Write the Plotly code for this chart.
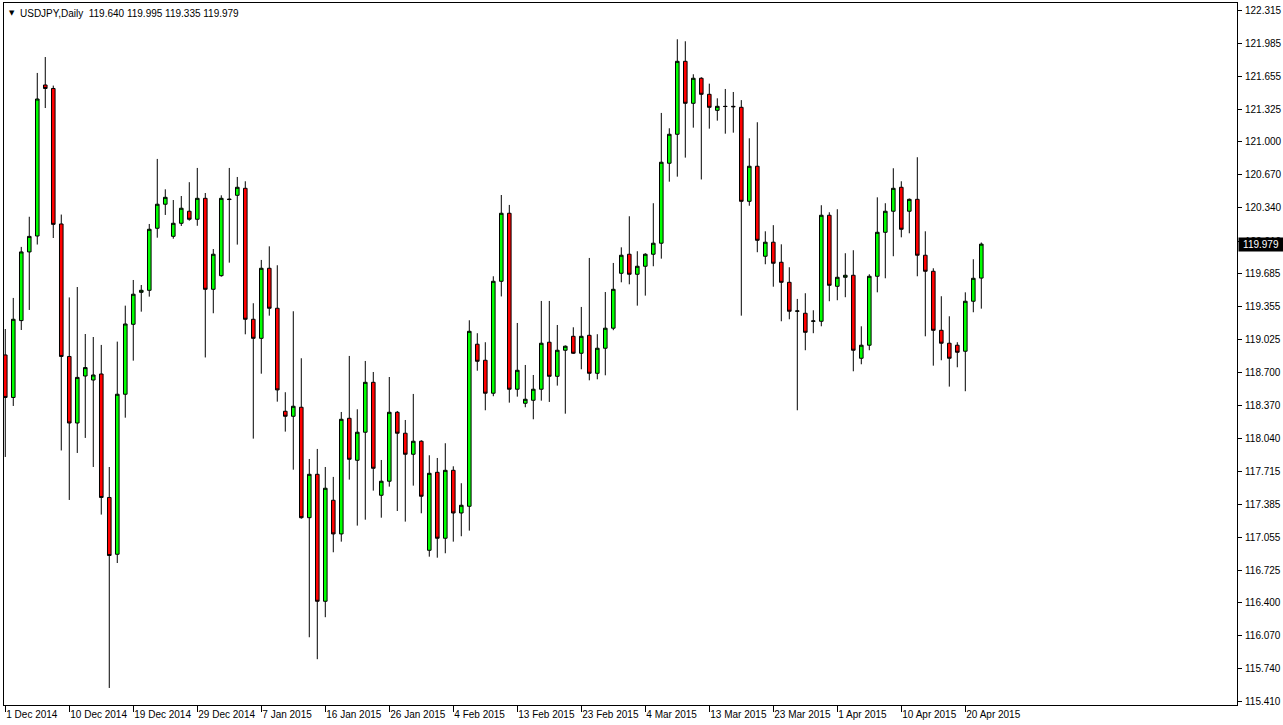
import pandas as pd
import plotly.graph_objects as go

# ---- data (USDJPY daily) ----
dates = [d.strftime("%Y-%m-%d") for d in pd.date_range("2014-12-01", "2015-04-22") if d.weekday() != 5]

opens = [118.873, 118.449, 119.216, 119.901, 120.060, 121.567, 121.532, 120.180, 118.858, 118.194,
         118.663, 118.623, 118.683, 117.451, 116.884, 118.481, 119.179, 119.498, 119.518, 120.137,
         120.377, 120.057, 120.187, 120.307, 120.227, 120.436, 119.528, 119.664, 120.429, 120.466,
         120.536, 119.229, 119.039, 119.738, 119.339, 118.311, 118.261, 118.351, 117.249, 117.682,
         116.415, 117.423, 117.087, 118.241, 117.822, 118.102, 118.600, 117.473, 117.613, 118.301,
         118.092, 117.882, 118.012, 116.924, 117.702, 117.044, 117.722, 117.296, 117.363, 118.980,
         118.820, 118.491, 119.608, 120.287, 118.531, 118.391, 118.421, 118.531, 119.000, 118.660,
         118.920, 119.059, 118.890, 119.069, 118.690, 118.940, 119.140, 119.688, 119.878, 119.678,
         119.758, 119.878, 119.988, 120.786, 121.075, 121.803, 121.384, 121.634, 121.474, 121.314,
         121.354, 121.354, 121.344, 120.406, 120.756, 119.858, 119.998, 119.798, 119.598, 119.309,
         119.289, 119.209, 119.209, 120.267, 119.558, 119.648, 119.668, 118.840, 118.970, 119.658,
         120.097, 120.307, 120.546, 120.307, 120.426, 119.868, 119.708, 119.119, 118.990, 118.970,
         118.910, 119.409, 119.640]
highs = [119.132, 119.442, 119.951, 120.252, 121.687, 121.846, 121.561, 120.274, 119.447, 119.551,
         119.082, 119.052, 118.973, 117.755, 119.006, 119.365, 119.621, 119.571, 120.180, 120.829,
         120.526, 120.419, 120.459, 120.597, 120.739, 120.489, 119.930, 120.466, 120.739, 120.649,
         120.606, 119.389, 119.821, 119.957, 119.768, 118.501, 119.309, 118.840, 117.835, 117.935,
         117.755, 117.656, 118.304, 118.863, 118.331, 118.813, 118.703, 117.825, 118.653, 118.314,
         118.224, 118.484, 118.022, 117.872, 117.845, 117.992, 117.762, 117.593, 119.219, 119.090,
         119.000, 119.658, 120.469, 120.370, 119.192, 118.773, 118.673, 119.412, 119.412, 119.172,
         118.968, 119.149, 119.352, 119.841, 119.080, 119.501, 119.791, 119.947, 120.257, 119.908,
         119.888, 120.387, 121.288, 121.135, 122.023, 122.003, 121.674, 121.644, 121.580, 121.434,
         121.527, 121.497, 121.416, 121.035, 121.195, 120.107, 120.168, 119.977, 119.748, 119.432,
         119.489, 119.319, 120.367, 120.297, 120.327, 119.888, 119.918, 119.159, 119.678, 120.446,
         120.387, 120.736, 120.606, 120.434, 120.846, 120.107, 119.738, 119.459, 119.259, 119.000,
         119.498, 119.828, 119.995]
lows = [117.855, 118.364, 119.122, 119.322, 119.975, 121.337, 120.040, 117.920, 117.426, 117.895,
        118.045, 117.755, 117.280, 115.550, 116.797, 118.247, 118.816, 119.305, 119.455, 120.043,
        120.270, 120.033, 120.160, 120.213, 120.162, 118.848, 119.289, 119.654, 119.794, 119.974,
        119.079, 118.038, 118.686, 119.265, 118.407, 118.108, 117.728, 117.239, 116.056, 115.837,
        116.256, 116.904, 117.010, 117.629, 117.170, 117.229, 117.519, 117.249, 117.559, 117.316,
        117.210, 117.569, 117.293, 116.860, 116.850, 116.894, 117.010, 117.064, 117.120, 118.716,
        118.321, 118.461, 119.457, 118.397, 118.457, 118.351, 118.231, 118.417, 118.404, 118.567,
        118.287, 118.883, 118.730, 118.620, 118.630, 118.670, 119.120, 119.598, 119.578, 119.365,
        119.465, 119.758, 119.834, 120.602, 120.652, 120.842, 121.141, 120.624, 121.131, 121.211,
        121.081, 121.091, 119.265, 120.362, 119.898, 119.778, 119.554, 119.209, 119.229, 118.321,
        118.920, 119.090, 119.159, 119.409, 119.419, 119.449, 118.710, 118.780, 118.920, 119.498,
        119.638, 119.858, 120.047, 120.087, 119.658, 119.059, 118.766, 118.820, 118.557, 118.750,
        118.511, 119.299, 119.335]
closes = [118.449, 119.229, 119.901, 120.056, 121.427, 121.532, 120.176, 118.858, 118.194, 118.649,
          118.747, 118.673, 117.451, 116.872, 118.481, 119.182, 119.479, 119.518, 120.127, 120.377,
          120.446, 120.187, 120.337, 120.227, 120.436, 119.528, 119.878, 120.436, 120.424, 120.546,
          119.229, 119.039, 119.738, 119.339, 118.524, 118.261, 118.361, 117.249, 117.682, 116.415,
          117.543, 117.087, 118.231, 117.832, 118.102, 118.600, 117.742, 117.613, 118.301, 118.092,
          117.882, 118.012, 117.463, 117.692, 117.044, 117.722, 117.296, 117.373, 119.109, 118.810,
          118.491, 119.608, 120.287, 118.531, 118.720, 118.431, 118.531, 118.990, 118.660, 118.920,
          118.960, 118.890, 119.059, 118.690, 118.940, 119.140, 119.528, 119.868, 119.678, 119.758,
          119.878, 119.988, 120.796, 121.075, 121.803, 121.384, 121.634, 121.474, 121.344, 121.354,
          121.352, 121.350, 120.406, 120.756, 120.017, 119.998, 119.788, 119.598, 119.309, 119.312,
          119.099, 119.212, 120.267, 119.568, 119.648, 119.668, 118.920, 118.970, 119.658, 120.097,
          120.307, 120.536, 120.127, 120.426, 119.868, 119.708, 119.119, 118.990, 118.840, 118.900,
          119.409, 119.638, 119.979]

x_tick_labels = ["1 Dec 2014", "10 Dec 2014", "19 Dec 2014", "29 Dec 2014", "7 Jan 2015",
                 "16 Jan 2015", "26 Jan 2015", "4 Feb 2015", "13 Feb 2015", "23 Feb 2015",
                 "4 Mar 2015", "13 Mar 2015", "23 Mar 2015", "1 Apr 2015", "10 Apr 2015",
                 "20 Apr 2015"]
y_ticks = [122.315, 121.985, 121.655, 121.325, 121.000, 120.670, 120.340, 120.010, 119.685,
           119.355, 119.025, 118.700, 118.370, 118.040, 117.715, 117.385, 117.055, 116.725,
           116.400, 116.070, 115.740, 115.410]

symbol = "USDJPY,Daily"
last_ohlc = [119.640, 119.995, 119.335, 119.979]

# ---- figure ----
FONT = "Liberation Sans"
fig = go.Figure(go.Candlestick(
    x=dates, open=opens, high=highs, low=lows, close=closes,
    increasing=dict(line=dict(color="black", width=1), fillcolor="#00FF00"),
    decreasing=dict(line=dict(color="black", width=1), fillcolor="#FF0000"),
    whiskerwidth=0, hoverinfo="skip",
))

fig.update_layout(
    width=1283, height=725,
    margin=dict(l=4, r=46, t=3, b=20, autoexpand=False),
    paper_bgcolor="white", plot_bgcolor="white",
    showlegend=False, boxgap=0.36,
    font=dict(family=FONT, size=10, color="black"),
)
fig.update_xaxes(
    type="category", range=[-0.16, 153.96], rangeslider_visible=False,
    tickvals=dates[::8], ticktext=x_tick_labels, tickangle=0, automargin=False,
    ticks="outside", ticklen=6, tickcolor="black", tickwidth=1,
    ticklabelposition="outside right", ticklabelstandoff=0,
    showline=True, linecolor="black", linewidth=1, mirror=True,
    showgrid=False, zeroline=False,
    tickfont=dict(family=FONT, size=10, color="black"),
)
fig.update_yaxes(
    side="right", range=[115.380, 122.385], automargin=False,
    tickvals=y_ticks, ticktext=[f"{v:.3f}" for v in y_ticks],
    ticks="outside", ticklen=4, tickcolor="black", tickwidth=1,
    ticklabelstandoff=1,
    showline=True, linecolor="black", linewidth=1, mirror=True,
    showgrid=False, zeroline=False,
    tickfont=dict(family=FONT, size=10, color="black"),
)

# header
fig.add_annotation(xref="paper", yref="paper", x=0, y=1, xanchor="left", yanchor="top",
                   xshift=3, yshift=-4, showarrow=False, text="▼",
                   font=dict(family="DejaVu Sans", size=7, color="black"))
fig.add_annotation(xref="paper", yref="paper", x=0, y=1, xanchor="left", yanchor="top",
                   xshift=14, yshift=-3, showarrow=False,
                   text=symbol + "  " + " ".join(f"{v:.3f}" for v in last_ohlc),
                   font=dict(family=FONT, size=10, color="black"))
# current price label
fig.add_annotation(xref="paper", yref="y", x=1, y=closes[-1], xanchor="left", yanchor="middle",
                   xshift=1, showarrow=False, text=f"{closes[-1]:.3f}",
                   bgcolor="black", borderpad=1, width=42,
                   font=dict(family=FONT, size=10, color="white"))

fig.write_html("out.html", config={"displayModeBar": False},
               post_script="document.body.style.margin='0';")
